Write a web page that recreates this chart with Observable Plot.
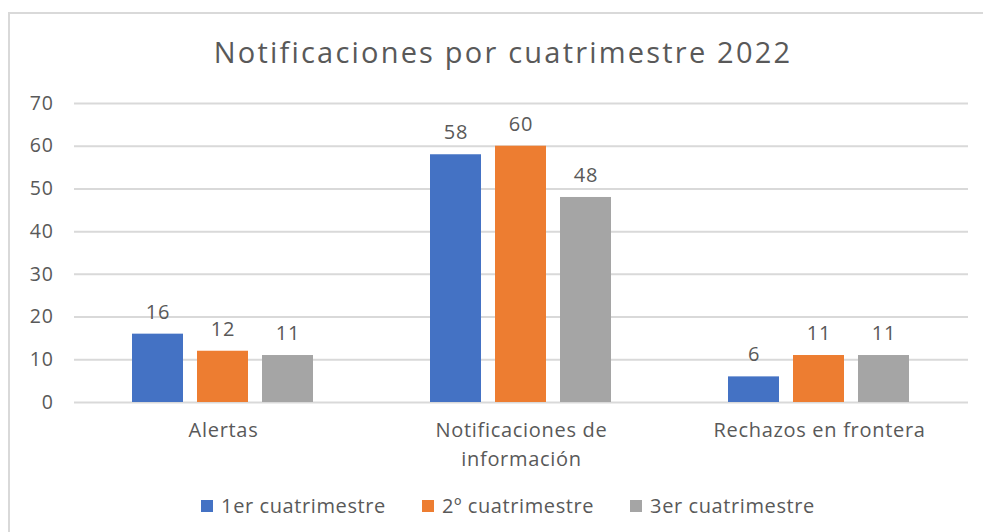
<!DOCTYPE html>
<html>
<head>
<meta charset="utf-8">
<script src="https://cdn.jsdelivr.net/npm/d3@7"></script>
<script src="https://cdn.jsdelivr.net/npm/@observablehq/plot@0.6"></script>
<style>
  html, body { margin: 0; padding: 0; background: #fff; width: 983px; height: 532px; overflow: hidden; }
  body { position: relative; font-family: "Open Sans", sans-serif; color: #595959; }
  #frame { position: absolute; left: 8px; top: 12px; width: 1000px; height: 600px; border: 2px solid #d9d9d9; box-sizing: border-box; }
  #title { position: absolute; left: 0; width: 1006px; top: 32px; text-align: center; font-size: 29px; letter-spacing: 2.2px; color: #595959; white-space: nowrap; }
  #chart { position: absolute; left: 0; top: 85px; }
  #chart svg text { letter-spacing: 0.7px; }
  #legend { position: absolute; left: 0; width: 1016px; top: 492px; display: flex; justify-content: center; gap: 36px; font-size: 20px; letter-spacing: 0.6px; color: #595959; }
  .item { display: flex; align-items: center; gap: 8px; }
  .sw { width: 12px; height: 12px; display: inline-block; }
</style>
</head>
<body>
<div id="frame"></div>
<div id="title">Notificaciones por cuatrimestre 2022</div>
<div id="chart"></div>
<div id="legend"></div>
<script>
const categories = ["Alertas", "Notificaciones de información", "Rechazos en frontera"];
const categoryLabels = ["Alertas", "Notificaciones de\ninformación", "Rechazos en frontera"];
const series = ["1er cuatrimestre", "2º cuatrimestre", "3er cuatrimestre"];
const values1 = [16, 58, 6];
const values2 = [12, 60, 11];
const values3 = [11, 48, 11];
const colors = ["#4472C4", "#ED7D31", "#A5A5A5"];
const yTicks = [0, 10, 20, 30, 40, 50, 60, 70];

const seriesValues = [values1, values2, values3];
const data = [];
categories.forEach((c, i) => {
  series.forEach((s, j) => {
    data.push({cat: c, serie: s, value: seriesValues[j][i]});
  });
});
const catData = categories.map((c, i) => ({cat: c, label: categoryLabels[i]}));

const plot = Plot.plot({
  width: 983,
  height: 400,
  marginTop: 18,
  marginBottom: 83,
  marginLeft: 74,
  marginRight: 15,
  style: {fontFamily: "Open Sans, sans-serif", color: "#595959", background: "transparent"},
  fx: {domain: categories, padding: 0, axis: null},
  x: {domain: series, paddingInner: 0.212, paddingOuter: 0.864, axis: null},
  y: {domain: [0, 70], axis: null},
  color: {domain: series, range: colors},
  marks: [
    Plot.ruleY(yTicks, {stroke: "#d9d9d9", strokeWidth: 2}),
    Plot.barY(data, {fx: "cat", x: "serie", y: "value", fill: "serie"}),
    Plot.text(data, {fx: "cat", x: "serie", y: "value", text: d => String(d.value), dy: -22, fontSize: 20, fill: "#595959"}),
    Plot.text(catData, {fx: "cat", text: "label", frameAnchor: "bottom", lineAnchor: "top", dy: 14, fontSize: 20, lineHeight: 1.45, fill: "#595959"}),
    Plot.axisY({ticks: yTicks, tickSize: 0, tickPadding: 21, fontSize: 19.5, fill: "#595959", label: null, facetAnchor: "left"})
  ]
});
document.getElementById("chart").appendChild(plot);

const legend = document.getElementById("legend");
series.forEach((s, j) => {
  const item = document.createElement("div");
  item.className = "item";
  const sw = document.createElement("span");
  sw.className = "sw";
  sw.style.background = colors[j];
  const t = document.createElement("span");
  t.textContent = s;
  item.appendChild(sw);
  item.appendChild(t);
  legend.appendChild(item);
});
</script>
</body>
</html>
